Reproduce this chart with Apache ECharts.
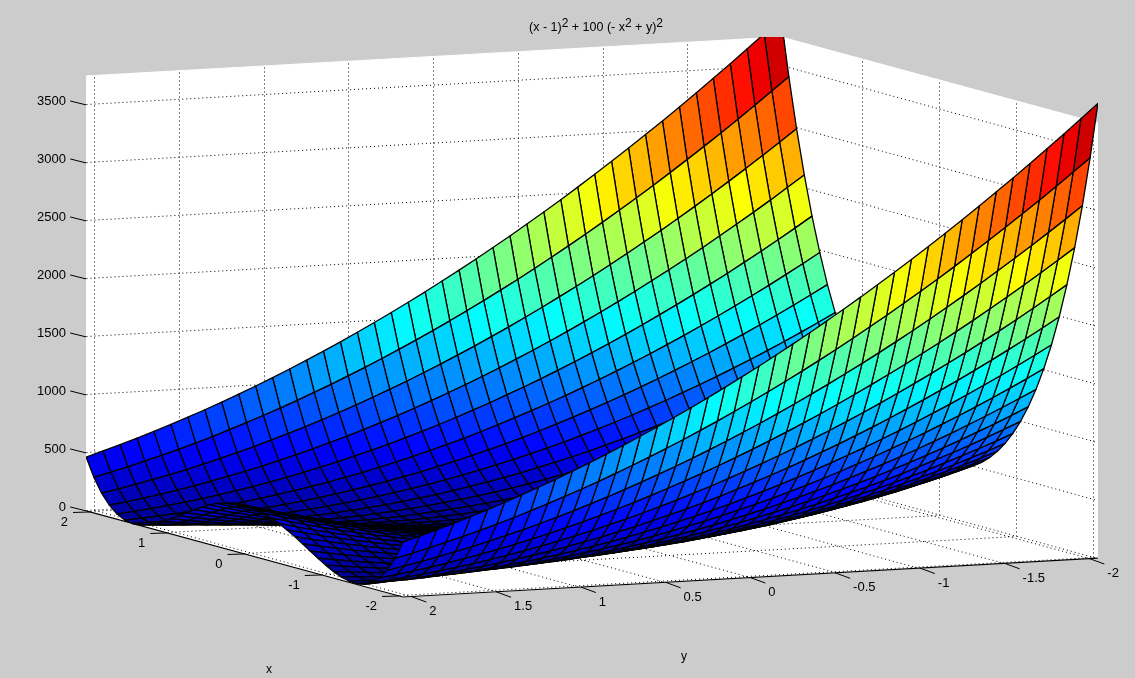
<!DOCTYPE html>
<html><head><meta charset="utf-8">
<style>html,body{margin:0;padding:0;background:#cccccc}#c{width:1135px;height:678px}</style>
<script src="https://cdn.jsdelivr.net/npm/echarts@6/dist/echarts.min.js"></script>
</head><body><div id="c"></div>
<script>
var xValues=[-2.05,-1.95,-1.85,-1.75,-1.65,-1.55,-1.45,-1.35,-1.25,-1.15,-1.05,-.95,-.85,-.75,-.65,-.55,-.45,-.35,-.25,-.15,-.05,.05,.15,.25,.35,.45,.55,.65,.75,.85,.95,1.05,1.15,1.25,1.35,1.45,1.55,1.65,1.75,1.85,1.95,2.05];
var yValues=xValues.slice();
var zValues=[
[3919,3795,3673,3553,3435,3318,3204,3092,2982,2874,2768,2664,2562,2462,2364,2268,2174,2082,1992,1904,1818,1734,1652,1572,1493,1417,1343,1271,1201,1133,1067,1003,941,881,823,767,713,661,611,563,517,473],
[3434,3318,3204,3092,2982,2874,2768,2664,2562,2462,2364,2268,2174,2082,1992,1903,1817,1733,1651,1571,1493,1417,1343,1271,1201,1133,1067,1003,941,881,823,767,713,661,610,562,516,472,430,390,352,316],
[3003,2894,2788,2683,2581,2481,2382,2286,2191,2099,2008,1920,1833,1749,1667,1586,1508,1431,1357,1284,1214,1145,1079,1014,952,892,833,777,722,670,619,571,524,480,438,397,359,322,288,255,225,196],
[2622,2521,2421,2324,2229,2136,2044,1955,1868,1783,1699,1618,1539,1462,1386,1313,1242,1173,1105,1040,977,916,856,799,744,691,639,590,543,498,454,413,374,337,301,268,237,208,180,155,132,111],
[2285,2190,2098,2007,1919,1832,1748,1666,1585,1507,1430,1356,1283,1213,1144,1078,1013,951,891,832,776,721,669,618,570,523,479,437,396,358,321,287,254,224,195,169,144,122,102,83,67,52],
[1990,1901,1815,1731,1649,1569,1491,1415,1341,1269,1199,1131,1065,1001,939,879,821,765,711,659,608,560,514,470,428,388,350,314,280,248,218,190,164,140,118,98,80,64,50,38,27,19],
[1730,1648,1568,1490,1414,1340,1268,1198,1130,1064,1000,938,878,820,764,710,658,607,559,513,469,427,387,349,313,279,247,217,189,163,139,117,97,79,63,49,37,26,18,12,8,6],
[1506,1429,1355,1282,1212,1143,1077,1012,950,890,831,775,720,668,617,569,522,478,436,395,357,320,286,253,223,194,168,143,121,101,82,66,51,39,28,20,13,9,7,6,8,11],
[1310,1239,1170,1102,1037,974,913,853,796,741,688,636,587,540,495,451,410,371,334,298,265,234,205,177,152,129,108,88,71,56,43,31,22,15,10,6,5,6,9,13,20,29],
[1142,1076,1011,949,889,830,774,719,667,616,568,521,477,435,394,356,319,285,252,222,193,167,142,120,100,81,65,50,38,27,19,12,8,6,5,7,10,16,23,33,44,58],
[998,936,876,818,762,708,656,605,557,511,467,425,385,347,311,277,245,215,187,161,137,115,95,77,61,47,35,24,16,10,6,4,4,6,10,16,24,34,46,60,76,94],
[876,818,762,708,656,605,557,511,467,425,385,347,311,277,245,215,187,161,137,115,95,77,61,47,35,24,16,10,6,4,4,6,10,16,24,34,46,60,76,94,114,136],
[772,717,665,614,566,519,475,433,392,354,317,283,250,220,191,165,140,118,98,79,63,48,36,25,17,10,6,4,3,5,8,14,21,31,42,56,71,89,109,130,154,179],
[686,634,585,538,493,449,408,369,332,296,263,232,203,175,150,127,106,86,69,54,41,29,20,13,8,4,3,4,7,11,18,27,38,50,65,82,101,121,144,169,196,224],
[614,566,519,475,433,392,354,317,283,250,220,191,165,140,118,98,79,63,48,36,25,17,10,6,4,3,5,8,14,21,31,42,56,71,89,109,130,154,179,207,236,268],
[555,509,465,423,383,345,309,275,243,213,185,159,135,113,93,75,59,45,33,22,14,8,4,2,2,4,8,14,22,32,44,58,74,92,112,134,158,184,212,241,273,307],
[509,465,423,383,345,309,275,243,213,185,159,135,113,93,75,59,45,33,22,14,8,4,2,2,4,8,14,22,32,44,58,74,92,112,134,158,184,212,241,273,307,343],
[474,432,391,353,316,282,249,219,190,164,139,117,97,78,62,47,35,24,16,9,5,3,2,4,7,13,20,30,41,55,70,88,108,129,153,178,206,235,267,300,336,374],
[448,407,368,331,295,262,231,202,174,149,126,105,85,68,53,40,28,19,12,7,3,2,3,6,10,17,26,37,49,64,81,100,120,143,168,195,223,254,287,322,358,397],
[431,390,352,315,281,248,218,189,163,138,116,96,77,61,46,34,23,15,8,4,2,1,3,6,12,19,29,40,54,69,87,107,128,152,177,205,234,266,299,335,373,412],
[422,382,344,308,274,242,212,184,158,134,112,92,74,58,44,32,21,13,7,3,1,1,3,7,13,21,31,43,57,73,91,111,133,157,183,211,240,272,306,342,380,420],
[422,382,344,308,274,242,212,184,158,134,112,92,74,58,44,32,21,13,7,3,1,1,3,7,13,21,31,43,57,73,91,111,133,157,183,211,240,272,306,342,380,420],
[431,390,352,315,281,248,218,189,163,138,116,96,77,61,46,34,23,15,8,4,2,1,3,6,12,19,29,40,54,69,87,107,128,152,177,205,234,266,299,335,373,412],
[447,406,367,330,294,261,230,201,173,148,125,104,84,67,52,39,27,18,11,6,2,1,2,5,9,16,25,36,48,63,80,99,119,142,167,194,222,253,286,321,357,396],
[472,430,389,351,314,280,247,217,188,162,137,115,95,76,60,45,33,22,14,7,3,1,0,2,5,11,18,28,39,53,68,86,106,127,151,176,204,233,265,298,334,372],
[507,463,421,381,343,307,273,241,211,183,157,133,111,91,73,57,43,31,20,12,6,2,0,0,2,6,12,20,30,42,56,72,90,110,132,156,182,210,239,271,305,341],
[553,507,463,421,381,343,307,273,241,211,183,157,133,111,91,73,57,43,31,20,12,6,2,0,0,2,6,12,20,30,42,56,72,90,110,132,156,182,210,239,271,305],
[611,563,516,472,430,389,351,314,280,247,217,188,162,137,115,95,76,60,45,33,22,14,7,3,1,0,2,5,11,18,28,39,53,68,86,106,127,151,176,204,233,265],
[683,631,582,535,490,446,405,366,329,293,260,229,200,172,147,124,103,83,66,51,38,26,17,10,5,1,0,1,4,8,15,24,35,47,62,79,98,118,141,166,193,221],
[769,714,662,611,563,516,472,430,389,351,314,280,247,217,188,162,137,115,95,76,60,45,33,22,14,7,3,1,0,2,5,11,18,28,39,53,68,86,106,127,151,176],
[872,814,758,704,652,601,553,507,463,421,381,343,307,273,241,211,183,157,133,111,91,73,57,43,31,20,12,6,2,0,0,2,6,12,20,30,42,56,72,90,110,132],
[994,932,872,814,758,704,652,601,553,507,463,421,381,343,307,273,241,211,183,157,133,111,91,73,57,43,31,20,12,6,2,0,0,2,6,12,20,30,42,56,72,90],
[1137,1071,1006,944,884,825,769,714,662,611,563,516,472,430,389,351,314,280,247,217,188,162,137,115,95,76,60,45,33,22,14,7,3,1,0,2,5,11,18,28,39,53],
[1305,1234,1165,1097,1032,969,908,848,791,736,683,631,582,535,490,446,405,366,329,293,260,229,200,172,147,124,103,83,66,51,38,26,17,10,5,1,0,1,4,8,15,24],
[1500,1423,1349,1276,1206,1137,1071,1006,944,884,825,769,714,662,611,563,516,472,430,389,351,314,280,247,217,188,162,137,115,95,76,60,45,33,22,14,7,3,1,0,2,5],
[1724,1642,1562,1484,1408,1334,1262,1192,1124,1058,994,932,872,814,758,704,652,601,553,507,463,421,381,343,307,273,241,211,183,157,133,111,91,73,57,43,31,20,12,6,2,0],
[1983,1894,1808,1724,1642,1562,1484,1408,1334,1262,1192,1124,1058,994,932,872,814,758,704,652,601,553,507,463,421,381,343,307,273,241,211,183,157,133,111,91,73,57,43,31,20,12],
[2278,2183,2091,2000,1912,1825,1741,1659,1578,1500,1423,1349,1276,1206,1137,1071,1006,944,884,825,769,714,662,611,563,516,472,430,389,351,314,280,247,217,188,162,137,115,95,76,60,45],
[2615,2514,2414,2317,2222,2129,2037,1948,1861,1776,1692,1611,1532,1455,1379,1306,1235,1166,1098,1033,970,909,849,792,737,684,632,583,536,491,447,406,367,330,294,261,230,201,173,148,125,104],
[2996,2887,2781,2676,2574,2474,2375,2279,2184,2092,2001,1913,1826,1742,1660,1579,1501,1424,1350,1277,1207,1138,1072,1007,945,885,826,770,715,663,612,564,517,473,431,390,352,315,281,248,218,189],
[3426,3310,3196,3084,2974,2866,2760,2656,2554,2454,2356,2260,2166,2074,1984,1895,1809,1725,1643,1563,1485,1409,1335,1263,1193,1125,1059,995,933,873,815,759,705,653,602,554,508,464,422,382,344,308],
[3911,3786,3664,3544,3426,3310,3196,3084,2974,2866,2760,2656,2554,2454,2356,2260,2166,2074,1984,1896,1810,1725,1643,1563,1485,1409,1335,1263,1193,1125,1059,995,933,873,815,759,705,653,603,555,509,464]
];
var zTicks=[0,500,1000,1500,2000,2500,3000,3500];
var xTicks=[2,1,0,-1,-2];
var yTicks=[2,1.5,1,0.5,0,-0.5,-1,-1.5,-2];
var xLim=[-2.05,2.05],yLim=[-2.05,2.05],zLim=[0,3750],cLim=[0,3919];
var jetStops=[[0,0,0,143],[.125,0,0,255],[.375,0,255,255],[.625,255,255,0],[.875,255,0,0],[1,128,0,0]];

/* orthographic view of the MATLAB axes, giving plane coordinates for the hidden cartesian axes */
function plane(x,y,z){return [592-77.25*x-169.5*y,534.5-21*x+9.5*y-0.116*z];}
function jet(v){
  var t=Math.max(0,Math.min(1,(v-cLim[0])/(cLim[1]-cLim[0])));
  for(var k=1;k<jetStops.length;k++){
    if(t<=jetStops[k][0]){
      var a=jetStops[k-1],b=jetStops[k],f=(t-a[0])/(b[0]-a[0]);
      return 'rgb('+Math.round(a[1]+(b[1]-a[1])*f)+','+Math.round(a[2]+(b[2]-a[2])*f)+','+Math.round(a[3]+(b[3]-a[3])*f)+')';
    }
  }
  return 'rgb(128,0,0)';
}
var X0=xLim[0],X1=xLim[1],Y0=yLim[0],Y1=yLim[1],Z1=zLim[1];
var walls=[
 [[X1,Y1,0],[X1,Y0,0],[X1,Y0,Z1],[X1,Y1,Z1]],
 [[X1,Y0,0],[X0,Y0,0],[X0,Y0,Z1],[X1,Y0,Z1]],
 [[X1,Y1,0],[X0,Y1,0],[X0,Y0,0],[X1,Y0,0]]
];
var gridSegs=[];
zTicks.forEach(function(z){gridSegs.push([[X1,Y1,z],[X1,Y0,z]],[[X1,Y0,z],[X0,Y0,z]]);});
xTicks.forEach(function(x){gridSegs.push([[x,Y1,0],[x,Y0,0]],[[x,Y0,0],[x,Y0,Z1]]);});
yTicks.forEach(function(y){gridSegs.push([[X1,y,0],[X0,y,0]],[[X1,y,0],[X1,y,Z1]]);});
var axisSegs=[[[X1,Y1,0],[X0,Y1,0]],[[X0,Y1,0],[X0,Y0,0]]];

var cells=[];
for(var i=xValues.length-2;i>=0;i--){for(var j=0;j<yValues.length-1;j++){cells.push([i,j]);}}

function pt(api,p){return api.coord(plane(p[0],p[1],p[2]));}
function crisp(c){return [Math.floor(c[0])+0.5,Math.floor(c[1])+0.5];}
function line(api,a,b,style){
  return {type:'line',shape:{x1:a[0],y1:a[1],x2:b[0],y2:b[1]},style:style,silent:true};
}
function idx(n){var a=[];for(var k=0;k<n;k++)a.push([k]);return a;}
var fnt='13px "Liberation Sans"';
function label(api,p,dx,dy,txt,al){
  var c=pt(api,p);
  return {type:'text',style:{x:c[0]+dx,y:c[1]+dy,text:String(txt),font:fnt,fill:'#000',align:al,verticalAlign:'middle'},silent:true};
}
var tickItems=[];
zTicks.forEach(function(z){tickItems.push({k:'z',v:z});});
xTicks.forEach(function(x){tickItems.push({k:'x',v:x});});
yTicks.forEach(function(y){tickItems.push({k:'y',v:y});});

var base={type:'custom',coordinateSystem:'cartesian2d',animation:false,progressive:0,silent:true,encode:{x:0,y:0}};
function ser(o){return Object.assign({},base,o);}

var option={
 animation:false,
 backgroundColor:'#cccccc',
 title:{
  left:591,top:13,textAlign:'center',
  text:'{t|(x - 1)}{s|2}{t| + 100 (- x}{s|2}{t| + y)}{s|2}',
  textStyle:{fontWeight:'normal',rich:{
    t:{fontFamily:'Liberation Sans',fontWeight:'normal',fontSize:12.5,color:'#000',lineHeight:16,verticalAlign:'bottom'},
    s:{fontFamily:'Liberation Sans',fontWeight:'normal',fontSize:12,color:'#000',lineHeight:16,verticalAlign:'top',padding:[0,0,4,0]}
  }}
 },
 grid:{left:86,top:37,width:1012,height:603,containLabel:false},
 xAxis:{type:'value',min:86,max:1098,show:false},
 yAxis:{type:'value',min:37,max:640,inverse:true,show:false},
 series:[
  ser({name:'walls',clip:true,data:idx(walls.length),renderItem:function(p,api){
    var q=walls[p.dataIndex].map(function(v){return pt(api,v);});
    return {type:'polygon',shape:{points:q},style:{fill:'#fff',stroke:'#fff',lineWidth:1},silent:true};
  }}),
  ser({name:'grid',clip:true,data:idx(gridSegs.length),renderItem:function(p,api){
    var s=gridSegs[p.dataIndex];
    return line(api,crisp(pt(api,s[0])),crisp(pt(api,s[1])),{stroke:'#000',lineWidth:1,lineDash:[1,3],fill:null});
  }}),
  ser({name:'axes',clip:false,data:idx(axisSegs.length),renderItem:function(p,api){
    var s=axisSegs[p.dataIndex];
    return line(api,pt(api,s[0]),pt(api,s[1]),{stroke:'#000',lineWidth:1.2,fill:null});
  }}),
  ser({name:'surface',clip:true,data:cells,renderItem:function(p,api){
    var c=cells[p.dataIndex],i=c[0],j=c[1];
    var z00=zValues[i][j],z10=zValues[i+1][j],z11=zValues[i+1][j+1],z01=zValues[i][j+1];
    var q=[pt(api,[xValues[i],yValues[j],z00]),pt(api,[xValues[i+1],yValues[j],z10]),pt(api,[xValues[i+1],yValues[j+1],z11]),pt(api,[xValues[i],yValues[j+1],z01])];
    return {type:'polygon',shape:{points:q},style:{fill:jet((z00+z10+z11+z01)/4),stroke:'#000',lineWidth:1.3,lineJoin:'round'},silent:true};
  }}),
  ser({name:'ticks',clip:false,data:idx(tickItems.length),renderItem:function(p,api){
    var t=tickItems[p.dataIndex],kids=[],c;
    if(t.k==='z'){
      c=pt(api,[X1,Y1,t.v]);
      kids.push(line(api,[c[0]-16,c[1]-4],c,{stroke:'#000',lineWidth:1,fill:null}));
      kids.push({type:'text',style:{x:66,y:c[1]-4,text:String(t.v),font:fnt,fill:'#000',align:'right',verticalAlign:'middle'},silent:true});
    }else if(t.k==='x'){
      c=pt(api,[t.v,Y1,0]);
      kids.push(line(api,[c[0]-17,c[1]+0.5],c,{stroke:'#000',lineWidth:1,fill:null}));
      kids.push(label(api,[t.v,Y1,0],-22,10,t.v,'right'));
    }else{
      c=pt(api,[X0,t.v,0]);
      kids.push(line(api,c,[c[0]+15,c[1]+5.5],{stroke:'#000',lineWidth:1,fill:null}));
      kids.push(label(api,[X0,t.v,0],18,15,t.v,'left'));
    }
    return {type:'group',children:kids,silent:true};
  }})
 ],
 graphic:[
  {type:'text',left:266,top:664,style:{text:'x',font:'12px "Liberation Sans"',fill:'#000'},silent:true},
  {type:'text',left:681,top:651,style:{text:'y',font:'12px "Liberation Sans"',fill:'#000'},silent:true}
 ]
};
var chart=echarts.init(document.getElementById('c'),null,{renderer:'canvas',width:1135,height:678});
chart.setOption(option);
</script></body></html>
